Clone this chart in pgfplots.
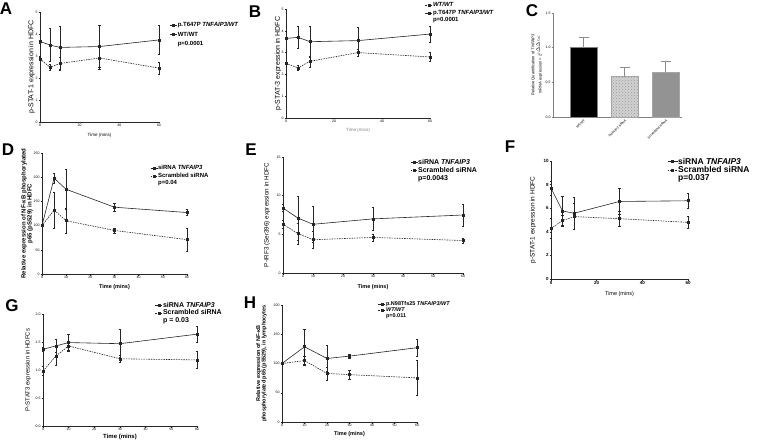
\documentclass[border=0pt]{standalone}
\usepackage{fontspec}
\setmainfont{Liberation Sans}
\usepackage{pgfplots}
\pgfplotsset{compat=1.18}
\usetikzlibrary{patterns}
\newcommand{\fs}[1]{\fontsize{#1}{#1}\selectfont}
\pgfplotsset{
 panel/.style={scale only axis, axis x line*=bottom, axis y line*=left,
   axis line style={black!85, line width=0.5pt, -}, tick align=outside,
   major tick length=1.5pt, tick style={black!85, line width=0.4pt},
   ticklabel style={font=\fs{3.5}, inner sep=0.8pt},
   /pgf/number format/assume math mode=true, clip=false,
   legend style={draw=none, fill=none, anchor=north west, inner sep=0pt,
     nodes={inner sep=0.3pt}},
   legend cell align=left,
   legend image code/.code={\draw[mark repeat=2, mark phase=2] plot coordinates {(0pt,0pt) (3.5pt,0pt) (7pt,0pt)};},
   ylabel style={anchor=center}, xlabel style={anchor=center}},
 sol/.style={black!85, line width=0.6pt, mark=square*, mark size=1pt, mark options={solid},
   error bars/y dir=both, error bars/y explicit,
   error bars/error bar style={line width=0.4pt, solid},
   error bars/error mark options={line width=0.4pt, mark size=1.3pt, rotate=90, solid}},
 das/.style={sol, dashed, dash pattern=on 1.5pt off 1pt},
}
\begin{document}
\begin{tikzpicture}
\useasboundingbox (0,0) rectangle (759pt,442pt);
% panel letters
\node[font=\fs{17}\bfseries] at (6pt,433pt) {A};
\node[font=\fs{17}\bfseries] at (255pt,430pt) {B};
\node[font=\fs{17}\bfseries] at (532pt,431pt) {C};
\node[font=\fs{17}\bfseries] at (8pt,292pt) {D};
\node[font=\fs{17}\bfseries] at (251pt,292pt) {E};
\node[font=\fs{17}\bfseries] at (510pt,295pt) {F};
\node[font=\fs{17}\bfseries] at (12pt,136pt) {G};
\node[font=\fs{17}\bfseries] at (250pt,139pt) {H};

% ---------- A ----------
\begin{axis}[panel, at={(40pt,320pt)}, anchor=south west, width=119pt, height=110pt,
  xmin=0, xmax=60, ymin=0, ymax=5, xtick={0,20,40,60}, ytick={0,1,2,3,4,5},
  ylabel={p-STAT-1 expression in HDFC}, ylabel style={font=\fs{7}, at={(axis description cs:-0.07,0.5)}},
  xlabel={Time (mins)}, xlabel style={font=\fs{4.5}, at={(axis description cs:0.5,-0.118)}},
  legend style={at={(axis description cs:1.09,0.91)}, font=\fs{6}\bfseries, row sep=3pt}]
\addplot[sol] coordinates {(0,3.66) +- (0,0.08) (5,3.5) +- (0,0.75) (10,3.39) +- (0,0.97) (30,3.43) +- (0,0.95) (60,3.73) +- (0,0.65)};
\addlegendentry{p.T647P \textit{TNFAIP3/WT}}
\addplot[das] coordinates {(0,2.87) +- (0,0.06) (5,2.49) +- (0,0.15) (10,2.66) +- (0,0.3) (30,2.91) +- (0,0.5) (60,2.45) +- (0,0.27)};
\addlegendentry{WT/WT}
\addlegendimage{empty legend}\addlegendentry{p=0.0001}
\end{axis}

% ---------- B ----------
\begin{axis}[panel, at={(286pt,324pt)}, anchor=south west, width=144pt, height=109pt,
  xmin=0, xmax=60, ymin=0, ymax=5, xtick={0,20,40,60}, ytick={0,1,2,3,4,5},
  ylabel={p-STAT-3 expression in HDFC}, ylabel style={font=\fs{7}, at={(axis description cs:-0.056,0.5)}},
  xlabel={Time (mins)}, xlabel style={font=\fs{4.5}, text=black!50, at={(axis description cs:0.5,-0.11)}},
  legend style={at={(axis description cs:0.965,1.064)}, font=\fs{6}\bfseries, row sep=1pt}]
\addplot[das] coordinates {(0,2.5) +- (0,0.05) (5,2.3) +- (0,0.1) (10,2.6) +- (0,0.25) (30,3.0) +- (0,0.15) (60,2.8) +- (0,0.2)};
\addlegendentry{\textit{WT/WT}}
\addplot[sol] coordinates {(0,3.65) +- (0,0.05) (5,3.7) +- (0,0.52) (10,3.5) +- (0,0.7) (30,3.55) +- (0,0.6) (60,3.85) +- (0,0.35)};
\addlegendentry{p.T647P \textit{TNFAIP3/WT}}
\addlegendimage{empty legend}\addlegendentry{p=0.0001}
\end{axis}

% ---------- C ----------
\begin{axis}[panel, at={(553pt,325pt)}, anchor=south west, width=129pt, height=104pt,
  xmin=-0.75, xmax=2.4, ymin=0, ymax=1.5, ytick={0,0.5,1,1.5},
  yticklabel style={/pgf/number format/fixed, /pgf/number format/fixed zerofill, /pgf/number format/precision=1},
  xtick={0,1,2}, xticklabels={WT/WT, \textit{TNFAIP3} siRNA, Scrambled siRNA},
  xticklabel style={rotate=45, anchor=north east, font=\fs{3.3}, inner sep=0.3pt},
  axis line style={black!50}, tick style={black!50},
  ylabel={Relative Quantification of \textit{TNFAIP3}\\mRNA expression = 2\textsuperscript{(-$\Delta\Delta$Cq)}},
  ylabel style={font=\fs{4}, align=center, at={(axis description cs:-0.124,0.5)}}]
\addplot[ybar, bar width=27pt, fill=black, draw=black!50, line width=0.6pt,
  error bars/y dir=plus, error bars/y explicit, error bars/error bar style={black!45, line width=0.6pt},
  error bars/error mark options={black!45, line width=0.6pt, mark size=5pt, rotate=90}]
  coordinates {(0,1.0) +- (0,0.15)};
\addplot[ybar, bar width=27pt, fill=gray!35, draw=black!35, line width=0.6pt,
  postaction={pattern=crosshatch dots, pattern color=gray!80},
  error bars/y dir=plus, error bars/y explicit, error bars/error bar style={black!45, line width=0.6pt},
  error bars/error mark options={black!45, line width=0.6pt, mark size=5pt, rotate=90}]
  coordinates {(1,0.58) +- (0,0.13)};
\addplot[ybar, bar width=27pt, fill=gray!85!white, draw=black!35, line width=0.6pt,
  error bars/y dir=plus, error bars/y explicit, error bars/error bar style={black!45, line width=0.6pt},
  error bars/error mark options={black!45, line width=0.6pt, mark size=5pt, rotate=90}]
  coordinates {(2,0.65) +- (0,0.16)};
\end{axis}

% ---------- D ----------
\begin{axis}[panel, at={(42pt,168pt)}, anchor=south west, width=145pt, height=121pt,
  xmin=0, xmax=60, ymin=0, ymax=250, xtick={0,10,...,60}, ytick={0,50,...,250},
  ylabel={Relative expression of NF-κB phosphorylated\\p65 (pS529) in HDFC},
  ylabel style={font=\fs{6}\bfseries, align=center, at={(axis description cs:-0.103,0.5)}},
  xlabel={Time (mins)}, xlabel style={font=\fs{5.5}\bfseries, at={(axis description cs:0.5,-0.107)}},
  legend style={at={(axis description cs:0.745,0.9)}, font=\fs{6}\bfseries, row sep=1pt}]
\addplot[sol] coordinates {(0,100) +- (0,2) (5,198) +- (0,10) (10,175) +- (0,41) (30,138) +- (0,8) (60,127) +- (0,6)};
\addlegendentry{siRNA \textit{TNFAIP3}}
\addplot[das] coordinates {(0,100) +- (0,2) (5,132) +- (0,38) (10,110) +- (0,25) (30,90) +- (0,5) (60,71) +- (0,24)};
\addlegendentry{Scrambled siRNA}
\addlegendimage{empty legend}\addlegendentry{p=0.04}
\end{axis}

% ---------- E ----------
\begin{axis}[panel, at={(283pt,169pt)}, anchor=south west, width=180pt, height=116pt,
  xmin=0, xmax=60, ymin=0, ymax=15, xtick={0,10,...,60}, ytick={0,5,10,15},
  ylabel={P-IRF3 (Ser396) expression in HDFC},
  ylabel style={font=\fs{6.3}, at={(axis description cs:-0.089,0.5)}},
  xlabel={Time (mins)}, xlabel style={font=\fs{5.5}\bfseries, at={(axis description cs:0.5,-0.12)}},
  legend style={at={(axis description cs:0.706,0.987)}, font=\fs{7}\bfseries, row sep=1pt}]
\addplot[sol] coordinates {(0,8.4) +- (0,0.45) (5,7.1) +- (0,2.85) (10,6.3) +- (0,2.3) (30,7.0) +- (0,1.5) (60,7.5) +- (0,1.45)};
\addlegendentry{siRNA \textit{TNFAIP3}}
\addplot[das] coordinates {(0,6.3) +- (0,0.5) (5,5.1) +- (0,1.4) (10,4.3) +- (0,1.05) (30,4.6) +- (0,0.45) (60,4.2) +- (0,0.3)};
\addlegendentry{Scrambled siRNA}
\addlegendimage{empty legend}\addlegendentry{p=0.0043}
\end{axis}

% ---------- F ----------
\begin{axis}[panel, at={(551pt,163pt)}, anchor=south west, width=137pt, height=118pt,
  xmin=0, xmax=60, ymin=0, ymax=10, xtick={0,20,40,60}, ytick={0,2,...,10},
  ticklabel style={font=\fs{4.5}\bfseries},
  ylabel={p-STAT-1 expression in HDFC},
  ylabel style={font=\fs{6.5}, at={(axis description cs:-0.131,0.5)}},
  xlabel={Time (mins)}, xlabel style={font=\fs{5.5}, at={(axis description cs:0.5,-0.127)}},
  legend style={at={(axis description cs:0.847,1.03)}, font=\fs{8.5}\bfseries, row sep=0pt},
  legend image code/.code={\draw[mark repeat=2, mark phase=2] plot coordinates {(0pt,0pt) (5pt,0pt) (10pt,0pt)};}]
\addplot[sol] coordinates {(0,7.71) +- (0,0.6) (5,5.77) +- (0,1.25) (10,5.57) +- (0,1.35) (30,6.57) +- (0,1.1) (60,6.63) +- (0,0.65)};
\addlegendentry{siRNA \textit{TNFAIP3}}
\addplot[das] coordinates {(0,4.29) +- (0,0.85) (5,4.94) +- (0,0.5) (10,5.29) +- (0,1.1) (30,5.11) +- (0,0.65) (60,4.8) +- (0,0.5)};
\addlegendentry{Scrambled siRNA}
\addlegendimage{empty legend}\addlegendentry{p=0.037}
\end{axis}

% ---------- G ----------
\begin{axis}[panel, at={(43pt,16pt)}, anchor=south west, width=154pt, height=112pt,
  xmin=0, xmax=60, ymin=0, ymax=2, xtick={0,10,...,60}, ytick={0,0.5,1,1.5,2},
  yticklabel style={/pgf/number format/fixed, /pgf/number format/fixed zerofill, /pgf/number format/precision=1},
  ylabel={P-STAT3 expression in HDFCs},
  ylabel style={font=\fs{6}, at={(axis description cs:-0.097,0.5)}},
  xlabel={Time (mins)}, xlabel style={font=\fs{6}\bfseries, at={(axis description cs:0.5,-0.098)}},
  legend style={at={(axis description cs:0.727,1.11)}, font=\fs{7}\bfseries, row sep=0.5pt}]
\addplot[sol] coordinates {(0,1.37) +- (0,0.04) (5,1.43) +- (0,0.12) (10,1.49) +- (0,0.15) (30,1.47) +- (0,0.25) (60,1.64) +- (0,0.15)};
\addlegendentry{siRNA \textit{TNFAIP3}}
\addplot[das] coordinates {(0,0.98) +- (0,0.08) (5,1.25) +- (0,0.17) (10,1.43) +- (0,0.08) (30,1.2) +- (0,0.06) (60,1.18) +- (0,0.15)};
\addlegendentry{Scrambled siRNA}
\addlegendimage{empty legend}\addlegendentry{p = 0.03}
\end{axis}

% ---------- H ----------
\begin{axis}[panel, at={(282pt,20pt)}, anchor=south west, width=135pt, height=117pt,
  xmin=0, xmax=60, ymin=0, ymax=200, xtick={0,10,...,60}, ytick={0,50,...,200},
  ylabel={Relative expression of NF-κB\\phosphorylated p65 (pS529), in lymphocytes},
  ylabel style={font=\fs{5.5}\bfseries, align=center, at={(axis description cs:-0.152,0.5)}},
  xlabel={Time (mins)}, xlabel style={font=\fs{5.5}\bfseries, at={(axis description cs:0.5,-0.103)}},
  legend style={at={(axis description cs:0.711,1.034)}, font=\fs{5.5}\bfseries, row sep=0pt}]
\addplot[sol] coordinates {(0,100) +- (0,1) (10,128.6) +- (0,30) (20,108.6) +- (0,22) (30,112.6) +- (0,4) (60,127) +- (0,15)};
\addlegendentry{p.N98Tfs25 \textit{TNFAIP3/WT}}
\addplot[das] coordinates {(0,100) +- (0,1) (10,105) +- (0,8) (20,83) +- (0,11) (30,81) +- (0,8) (60,75.4) +- (0,30)};
\addlegendentry{\textit{WT/WT}}
\addlegendimage{empty legend}\addlegendentry{p=0.011}
\end{axis}
\end{tikzpicture}
\end{document}
